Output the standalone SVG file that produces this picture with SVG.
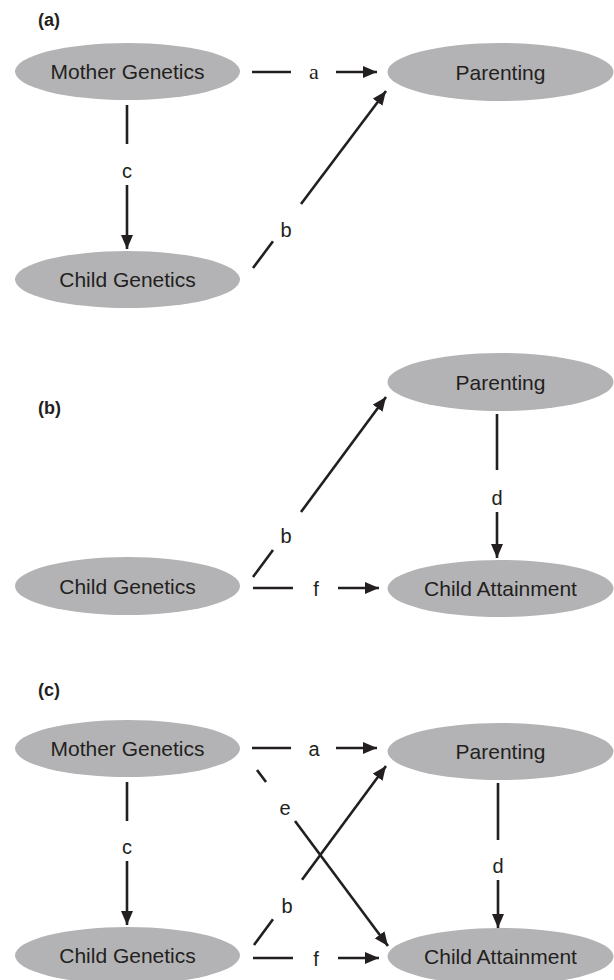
<svg xmlns="http://www.w3.org/2000/svg" width="614" height="980" viewBox="0 0 614 980">
<defs>
<marker id="ah" markerUnits="userSpaceOnUse" markerWidth="14" markerHeight="12" refX="14" refY="6" orient="auto">
<path d="M0,0 L14,6 L0,12 z" fill="#231f20"/>
</marker>
<style>
.node ellipse{fill:#b3b3b5;}
.node text{font-family:"Liberation Sans",Arial,sans-serif;font-size:21px;fill:#231f20;text-anchor:middle;}
.conn line{stroke:#231f20;stroke-width:2.6;fill:none;}
.conn line.arr{marker-end:url(#ah);}
.lbl{font-family:"Liberation Sans",Arial,sans-serif;font-size:20px;fill:#231f20;text-anchor:middle;}
.lbls{font-family:"Liberation Serif","Times New Roman",serif;font-size:22px;fill:#231f20;text-anchor:middle;}
.panel{font-family:"Liberation Sans",Arial,sans-serif;font-size:18px;font-weight:bold;fill:#231f20;}
</style>
</defs>
<rect width="614" height="980" fill="#ffffff"/>

<text class="panel" x="38" y="26">(a)</text>
<text class="panel" x="38" y="414">(b)</text>
<text class="panel" x="38" y="696">(c)</text>

<g id="a-mother" class="node"><ellipse cx="127.5" cy="71.5" rx="112.5" ry="28.5"/><text x="127.5" y="79">Mother Genetics</text></g>
<g id="a-parenting" class="node"><ellipse cx="500.5" cy="72" rx="113" ry="29"/><text x="500.5" y="79.5">Parenting</text></g>
<g id="a-child" class="node"><ellipse cx="127.5" cy="279.5" rx="112.5" ry="28.5"/><text x="127.5" y="287">Child Genetics</text></g>

<g id="b-parenting" class="node"><ellipse cx="500.5" cy="382" rx="113" ry="29"/><text x="500.5" y="389.5">Parenting</text></g>
<g id="b-child" class="node"><ellipse cx="127.5" cy="586" rx="112.5" ry="29"/><text x="127.5" y="593.5">Child Genetics</text></g>
<g id="b-attain" class="node"><ellipse cx="500.5" cy="588.5" rx="113" ry="28.5"/><text x="500.5" y="596">Child Attainment</text></g>

<g id="c-mother" class="node"><ellipse cx="127.5" cy="748.5" rx="112.5" ry="28.5"/><text x="127.5" y="756">Mother Genetics</text></g>
<g id="c-parenting" class="node"><ellipse cx="500.5" cy="751.5" rx="113" ry="28.5"/><text x="500.5" y="759">Parenting</text></g>
<g id="c-child" class="node"><ellipse cx="127.5" cy="955.5" rx="112.5" ry="28.5"/><text x="127.5" y="963">Child Genetics</text></g>
<g id="c-attain" class="node"><ellipse cx="500.5" cy="956.5" rx="113" ry="28.5"/><text x="500.5" y="964">Child Attainment</text></g>

<g id="connectors" class="conn">
<line x1="252" y1="72" x2="291" y2="72"/>
<line class="arr" x1="336" y1="72" x2="377" y2="72"/>
<line x1="127" y1="105" x2="127" y2="144"/>
<line class="arr" x1="127" y1="185" x2="127" y2="249"/>
<line x1="253" y1="268" x2="273" y2="241.3"/>
<line class="arr" x1="301" y1="204" x2="386" y2="91"/>
<line x1="253" y1="577" x2="273" y2="550"/>
<line class="arr" x1="301" y1="512" x2="386" y2="397"/>
<line x1="253" y1="588" x2="293" y2="588"/>
<line class="arr" x1="338" y1="588" x2="379" y2="588"/>
<line x1="497" y1="414" x2="497" y2="470"/>
<line class="arr" x1="497" y1="512" x2="497" y2="558"/>
<line x1="252" y1="748" x2="291" y2="748"/>
<line class="arr" x1="336" y1="748" x2="377" y2="748"/>
<line x1="127" y1="782" x2="127" y2="821"/>
<line class="arr" x1="127" y1="861" x2="127" y2="925"/>
<line x1="257" y1="770" x2="266" y2="782"/>
<line class="arr" x1="295" y1="821" x2="388" y2="946"/>
<line x1="254" y1="945" x2="273" y2="919.2"/>
<line class="arr" x1="302" y1="879.8" x2="386" y2="766"/>
<line x1="253" y1="958" x2="293" y2="958"/>
<line class="arr" x1="338" y1="958" x2="379" y2="958"/>
<line x1="498" y1="783" x2="498" y2="840"/>
<line class="arr" x1="498" y1="880" x2="498" y2="928"/>
</g>

<g id="edge-labels">
<text class="lbls" x="314" y="79">a</text>
<text class="lbl" x="127" y="178">c</text>
<text class="lbl" x="286" y="237">b</text>
<text class="lbl" x="286" y="543">b</text>
<text class="lbl" x="316" y="596">f</text>
<text class="lbl" x="497" y="505">d</text>
<text class="lbl" x="314" y="756">a</text>
<text class="lbl" x="127" y="854">c</text>
<text class="lbl" x="285" y="815">e</text>
<text class="lbl" x="287" y="913">b</text>
<text class="lbl" x="316" y="966">f</text>
<text class="lbl" x="498" y="873">d</text>
</g>
</svg>
